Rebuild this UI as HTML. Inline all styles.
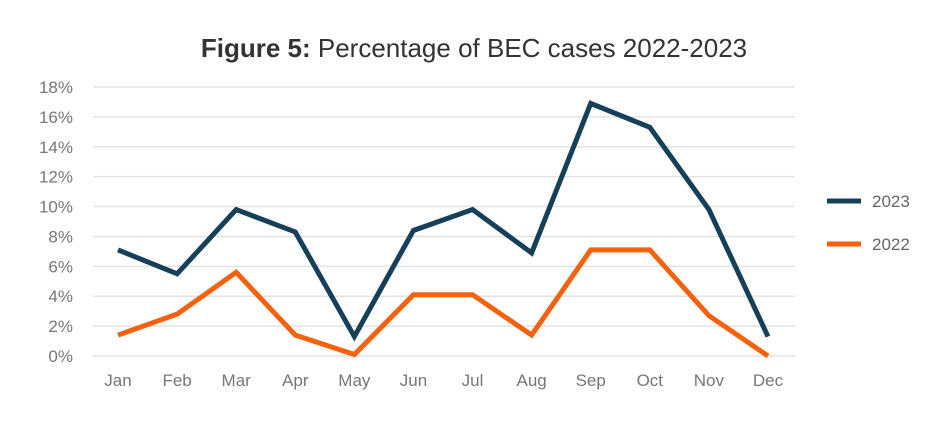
<!DOCTYPE html>
<html><head><meta charset="utf-8"><style>
body{margin:0;background:#fff;}
svg text{font-family:"Liberation Sans",sans-serif;}
</style></head><body>
<svg width="928" height="423" xmlns="http://www.w3.org/2000/svg">
<text x="474" y="57" text-anchor="middle" font-size="26" fill="#333"><tspan font-weight="bold">Figure 5:</tspan> Percentage of BEC cases 2022-2023</text>
<g id="grid"></g><g id="yt"></g><g id="xt"></g><g id="lines"></g>
<g>
<line x1="827" y1="201" x2="861" y2="201" stroke="#163f5a" stroke-width="5"/>
<text x="872" y="207" font-size="17" fill="#666">2023</text>
<line x1="827" y1="244" x2="861" y2="244" stroke="#f5620f" stroke-width="5"/>
<text x="872" y="250" font-size="17" fill="#666">2022</text>
</g>
</svg>
<script>
const months=["Jan","Feb","Mar","Apr","May","Jun","Jul","Aug","Sep","Oct","Nov","Dec"];
const s2023=[7.1,5.5,9.8,8.3,1.3,8.4,9.8,6.9,16.9,15.3,9.8,1.3];
const s2022=[1.4,2.8,5.6,1.4,0.1,4.1,4.1,1.4,7.1,7.1,2.7,0];
const yTicks=[0,2,4,6,8,10,12,14,16,18];
const NS="http://www.w3.org/2000/svg";
const x=i=>118+i*(768-118)/11;
const y=v=>356-v*(356-87)/18;
function mk(tag,attrs,parent,txt){const e=document.createElementNS(NS,tag);for(const k in attrs)e.setAttribute(k,attrs[k]);if(txt!==undefined)e.textContent=txt;document.getElementById(parent).appendChild(e);return e;}
yTicks.forEach(t=>{
 const l=mk('line',{x1:93,x2:795,y1:y(t),y2:y(t),stroke:'#e3e3e3','stroke-width':1.5},'grid');
 
 
 const tx=mk('text',{x:73,y:y(t)+6,'text-anchor':'end','font-size':17,fill:'#777'},'yt',t+'%');
 
 
});
months.forEach((m,i)=>{
 const tx=mk('text',{x:x(i),y:386,'text-anchor':'middle','font-size':17,fill:'#777'},'xt',m);
 
 
});
[[s2023,'#163f5a','line-2023'],[s2022,'#f5620f','line-2022']].forEach(([d,c,n])=>{
 const p=mk('polyline',{points:d.map((v,i)=>x(i)+','+y(v)).join(' '),fill:'none',stroke:c,'stroke-width':5,'stroke-linejoin':'miter'},'lines');
 
 
});
</script>
</body></html>
